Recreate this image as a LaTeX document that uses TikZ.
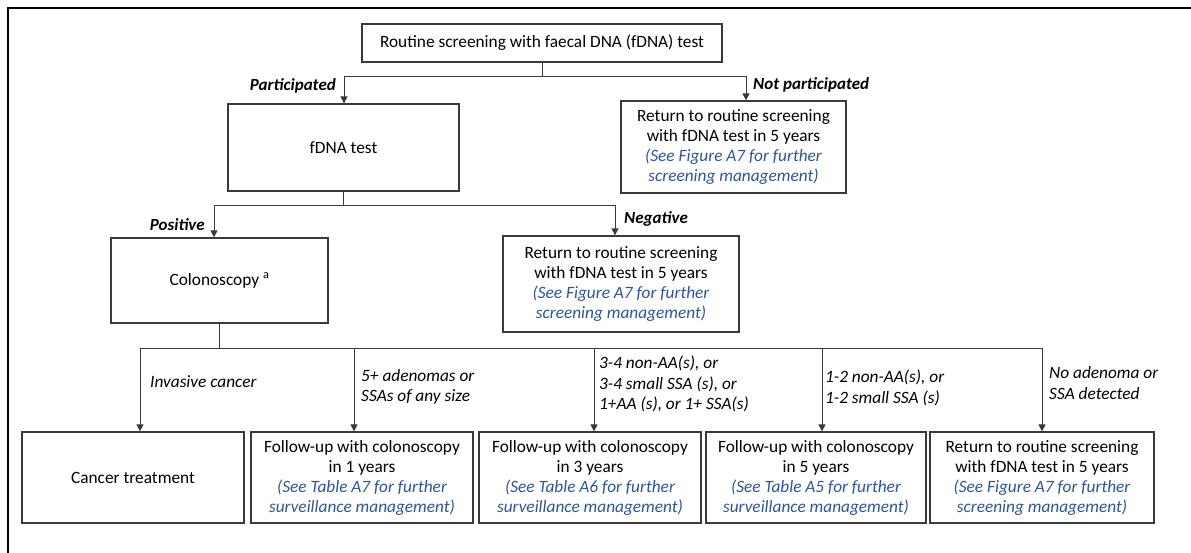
\documentclass[tikz,border=0pt]{standalone}
\usepackage{fontspec}
\setmainfont{Carlito}
\usetikzlibrary{arrows.meta}
\definecolor{linkblue}{HTML}{2F5597}
\definecolor{edge}{HTML}{3A3A3A}
\newcommand{\blueit}[1]{\textcolor{linkblue}{\itshape #1}}
\begin{document}
\begin{tikzpicture}[x=1pt,y=-1pt,
  box/.style={draw=edge, line width=1.3pt, align=center, inner sep=0pt,
    font=\fontsize{17.3}{20}\selectfont},
  lbl/.style={align=left, inner sep=0pt, font=\fontsize{17.3}{20.5}\selectfont\itshape},
  blbl/.style={lbl, font=\fontsize{17}{20}\selectfont\bfseries\itshape},
  arr/.style={draw=edge, line width=1pt, -{Triangle[width=7pt,length=7pt]}}]
\useasboundingbox (0,0) rectangle (1191,553);
% outer frame
\draw[line width=2.5pt] (8,553) -- (8,8) -- (1191,8);

% boxes
\node[box, minimum width=360pt, minimum height=38pt] (top) at (542,43)
  {Routine screening with faecal DNA (fDNA) test};
\node[box, minimum width=231pt, minimum height=87pt] (fdna) at (343.5,147.5) {fDNA test};
\node[box, minimum width=225pt, minimum height=92pt] (np) at (733.5,147)
  {Return to routine screening\\with fDNA test in 5 years\\
   \blueit{(See Figure A7 for further}\\\blueit{screening management)}};
\node[box, minimum width=217pt, minimum height=85pt] (colo) at (219.5,280.5)
  {Colonoscopy \textsuperscript{a}};
\node[box, minimum width=236pt, minimum height=96pt] (neg) at (621,284)
  {Return to routine screening\\with fDNA test in 5 years\\
   \blueit{(See Figure A7 for further}\\\blueit{screening management)}};
\node[box, minimum width=222pt, minimum height=91pt] (ct) at (133,477.5) {Cancer treatment};
\node[box, minimum width=222pt, minimum height=91pt] (f1) at (362,477.5)
  {Follow-up with colonoscopy\\in 1 years\\
   \blueit{(See Table A7 for further}\\\blueit{surveillance management)}};
\node[box, minimum width=222pt, minimum height=91pt] (f3) at (590,477.5)
  {Follow-up with colonoscopy\\in 3 years\\
   \blueit{(See Table A6 for further}\\\blueit{surveillance management)}};
\node[box, minimum width=220pt, minimum height=91pt] (f5) at (816,477.5)
  {Follow-up with colonoscopy\\in 5 years\\
   \blueit{(See Table A5 for further}\\\blueit{surveillance management)}};
\node[box, minimum width=224pt, minimum height=91pt] (rt) at (1042,477.5)
  {Return to routine screening\\with fDNA test in 5 years\\
   \blueit{(See Figure A7 for further}\\\blueit{screening management)}};

% branch points
\coordinate (pL) at (344,77);
\coordinate (pR) at (746,77);
\coordinate (qL) at (214,206);
\coordinate (qR) at (615,206);
\coordinate (c1) at (140,348);
\coordinate (c2) at (354,348);
\coordinate (c3) at (594,348);
\coordinate (c4) at (822,348);
\coordinate (c5) at (1042,348);

% connectors
\draw[arr] (top.south) |- (pL) -- (fdna.north -| pL);
\draw[arr] (top.south) |- (pR) -- (np.north -| pR);
\draw[arr] (fdna.south) |- (qL) -- (colo.north -| qL);
\draw[arr] (fdna.south) |- (qR) -- (neg.north -| qR);
\draw[arr] (colo.south) |- (c1) -- (ct.north -| c1);
\draw[arr] (colo.south) |- (c5) -- (rt.north -| c5);
\draw[arr] (c2) -- (f1.north -| c2);
\draw[arr] (c3) -- (f3.north -| c3);
\draw[arr] (c4) -- (f5.north -| c4);

% labels
\node[blbl, anchor=east] (lp) at (336,86) {Participated};
\node[blbl, anchor=west] (lnp) at (753,85) {Not participated};
\node[blbl, anchor=east] (lpos) at (205,225) {Positive};
\node[blbl, anchor=west] (lneg) at (624,219) {Negative};
\node[lbl, anchor=west] (l1) at (150,382) {Invasive cancer};
\node[lbl, anchor=west] (l2) at (361,387) {5+ adenomas or\\SSAs of any size};
\node[lbl, anchor=west] (l3) at (599,384) {3-4 non-AA(s), or\\3-4 small SSA (s), or\\1+AA (s), or 1+ SSA(s)};
\node[lbl, anchor=west] (l4) at (825,388) {1-2 non-AA(s), or\\1-2 small SSA (s)};
\node[lbl, anchor=west] (l5) at (1049,383) {No adenoma or\\SSA detected};
\end{tikzpicture}
\end{document}
